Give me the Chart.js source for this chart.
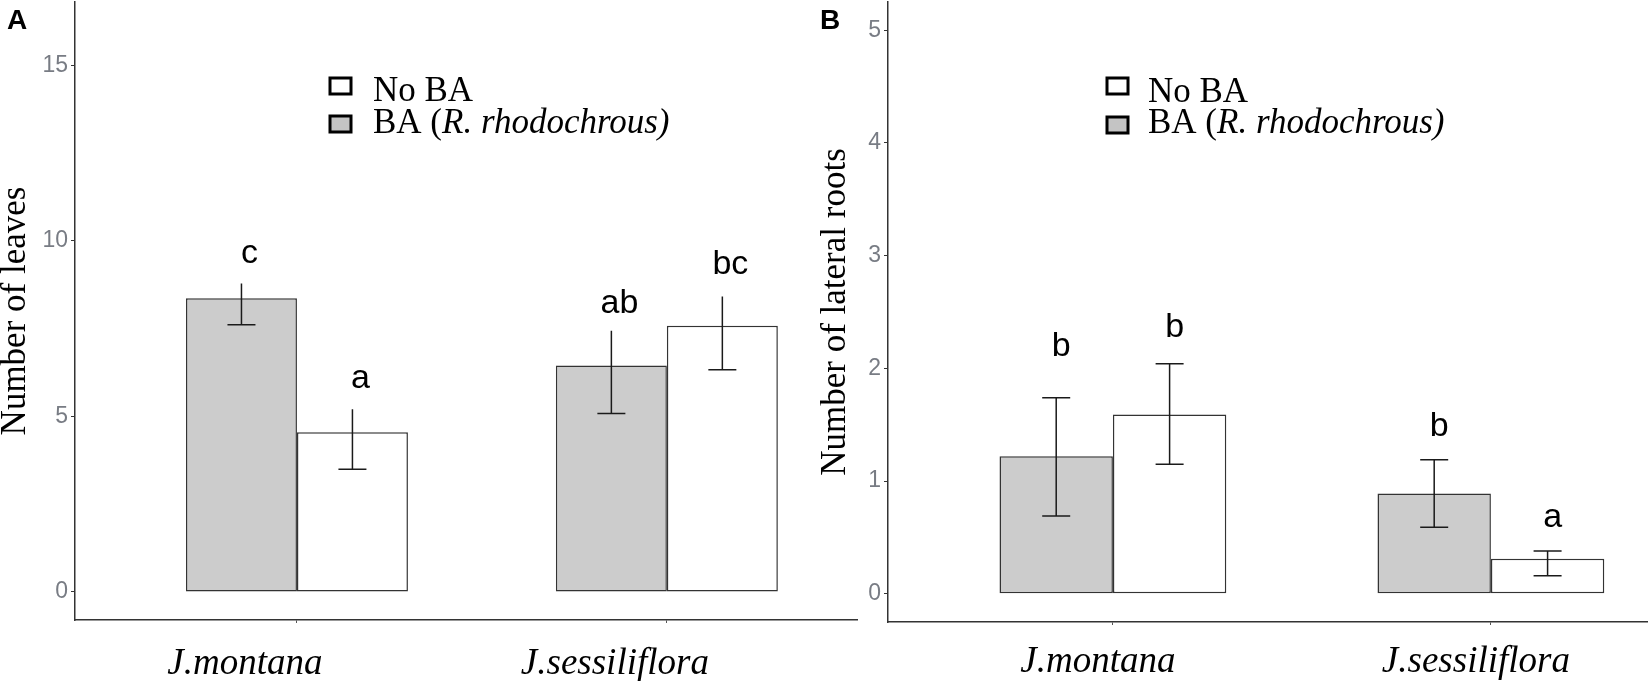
<!DOCTYPE html>
<html>
<head>
<meta charset="utf-8">
<style>
  body { margin: 0; background: #fff; width: 1650px; height: 681px; overflow: hidden; position: relative; }
  .panel { position: absolute; top: 0; }
  #wrapA { left: 0; }
  #wrapB { left: 820px; }
  .tag { position: absolute; top: 6px; font: bold 28px "Liberation Sans", Arial, sans-serif; line-height: 28px; }
</style>
<script src="https://cdn.jsdelivr.net/npm/chart.js"></script>
</head>
<body>
<div class="panel" id="wrapA"><canvas id="leavesChart" width="870" height="681"></canvas></div>
<div class="panel" id="wrapB"><canvas id="rootsChart" width="830" height="681"></canvas></div>
<div class="tag" style="left:7px">A</div>
<div class="tag" style="left:820px">B</div>
<script>
  const categories = ['J.montana', 'J.sessiliflora'];

  // A: number of leaves
  const leavesBA = [8.36, 6.45];
  const leavesBALow = [7.61, 5.08];
  const leavesBAHigh = [8.78, 7.44];
  const leavesNoBA = [4.55, 7.58];
  const leavesNoBALow = [3.49, 6.33];
  const leavesNoBAHigh = [5.2, 8.41];
  const leavesBALetters = ['c', 'ab'];
  const leavesNoBALetters = ['a', 'bc'];
  const leavesBALetterY = [9.38, 7.95];
  const leavesNoBALetterY = [5.82, 9.06];
  const leavesTicks = [0, 5, 10, 15];

  // B: number of lateral roots
  const rootsBA = [1.22, 0.89];
  const rootsBALow = [0.69, 0.59];
  const rootsBAHigh = [1.74, 1.19];
  const rootsNoBA = [1.59, 0.31];
  const rootsNoBALow = [1.15, 0.16];
  const rootsNoBAHigh = [2.04, 0.38];
  const rootsBALetters = ['b', 'b'];
  const rootsNoBALetters = ['b', 'a'];
  const rootsBALetterY = [2.11, 1.40];
  const rootsNoBALetterY = [2.28, 0.59];
  const rootsTicks = [0, 1, 2, 3, 4, 5];

  const serif = '"Liberation Serif", "Times New Roman", serif';
  const sans = '"Liberation Sans", Arial, sans-serif';

  // error bars + significance letters
  const errorBars = {
    id: 'errorBars',
    afterDatasetsDraw(chart, args, opts) {
      const ctx = chart.ctx, y = chart.scales.y;
      const h = opts.capWidth / 2;
      ctx.save();
      chart.data.datasets.forEach((ds, di) => {
        chart.getDatasetMeta(di).data.forEach((bar, i) => {
          const yl = y.getPixelForValue(ds.errLow[i]);
          const yh = y.getPixelForValue(ds.errHigh[i]);
          ctx.strokeStyle = '#1a1a1a';
          ctx.lineWidth = 1.5;
          ctx.beginPath();
          ctx.moveTo(bar.x, yl); ctx.lineTo(bar.x, yh);
          ctx.moveTo(bar.x - h, yl); ctx.lineTo(bar.x + h, yl);
          if (opts.topCaps) { ctx.moveTo(bar.x - h, yh); ctx.lineTo(bar.x + h, yh); }
          ctx.stroke();
          ctx.fillStyle = '#000';
          ctx.font = '34px ' + sans;
          ctx.textAlign = 'center';
          ctx.textBaseline = 'alphabetic';
          ctx.fillText(ds.letters[i], bar.x + opts.letterShift, y.getPixelForValue(ds.letterY[i]));
        });
      });
      ctx.restore();
    }
  };

  // legend with partly italic label
  const mixedLegend = {
    id: 'mixedLegend',
    afterDraw(chart, args, opts) {
      const ctx = chart.ctx;
      const rows = [
        { fill: '#ffffff', parts: [['No BA', 'normal']] },
        { fill: '#c4c4c4', parts: [['BA (', 'normal'], ['R. rhodochrous)', 'italic']] }
      ];
      ctx.save();
      rows.forEach((row, r) => {
        ctx.fillStyle = row.fill;
        ctx.strokeStyle = '#000';
        ctx.lineWidth = 3;
        ctx.fillRect(opts.boxX, opts.boxY[r] - 8, 21, 16);
        ctx.strokeRect(opts.boxX, opts.boxY[r] - 8, 21, 16);
        let x = opts.textX;
        ctx.fillStyle = '#000';
        ctx.textBaseline = 'alphabetic';
        ctx.textAlign = 'left';
        row.parts.forEach(([txt, style]) => {
          ctx.font = style + ' 35px ' + serif;
          ctx.fillText(txt, x, opts.textY[r]);
          x += ctx.measureText(txt).width;
        });
      });
      ctx.restore();
    }
  };

  function makePanel(id, cfg) {
    const toXY = arr => arr.map((v, i) => ({ x: i + 1, y: v }));
    return new Chart(document.getElementById(id), {
      type: 'bar',
      data: {
        datasets: [{
          label: 'BA (R. rhodochrous)',
          data: toXY(cfg.ba),
          errLow: cfg.baLow, errHigh: cfg.baHigh,
          letters: cfg.baLetters, letterY: cfg.baLetterY,
          backgroundColor: '#cccccc'
        }, {
          label: 'No BA',
          data: toXY(cfg.noBa),
          errLow: cfg.noBaLow, errHigh: cfg.noBaHigh,
          letters: cfg.noBaLetters, letterY: cfg.noBaLetterY,
          backgroundColor: '#ffffff'
        }]
      },
      options: {
        responsive: false,
        animation: false,
        layout: { padding: { top: 2, right: cfg.padRight, left: 0, bottom: 0 } },
        datasets: {
          bar: {
            borderColor: '#333333',
            borderWidth: 1.5,
            borderSkipped: false,
            categoryPercentage: 0.6,
            barPercentage: 1
          }
        },
        plugins: {
          legend: { display: false },
          tooltip: { enabled: false },
          errorBars: { capWidth: 28, topCaps: cfg.topCaps, letterShift: cfg.letterShift },
          mixedLegend: cfg.legend
        },
        scales: {
          x: {
            type: 'linear',
            min: cfg.xMin, max: cfg.xMax,
            offset: false,
            afterBuildTicks: s => { s.ticks = categories.map((c, i) => ({ value: i + 1 })); },
            ticks: {
              callback: v => categories[Math.round(v) - 1],
              font: { family: serif, size: 37, style: 'italic' },
              color: '#000',
              padding: cfg.xPad,
              labelOffset: cfg.labelShift,
              maxRotation: 0,
              autoSkip: false
            },
            grid: { offset: false, drawOnChartArea: false, drawTicks: true, tickLength: 3, tickColor: '#555', tickWidth: 1 },
            border: { color: '#333', width: 1.5 },
            afterFit: s => { s.height = cfg.xHeight; s.paddingLeft = 0; s.paddingRight = 0; }
          },
          y: {
            min: cfg.yMin, max: cfg.yMax,
            afterBuildTicks: s => { s.ticks = cfg.ticks.map(v => ({ value: v })); },
            ticks: { font: { family: sans, size: 23 }, color: '#787c84', padding: 3 },
            grid: { drawOnChartArea: false, drawTicks: true, tickLength: 4, tickColor: '#333' },
            border: { color: '#333', width: 1.5 },
            title: {
              display: true, text: cfg.title, color: '#000', padding: 0,
              font: { family: serif, size: 35, lineHeight: 0.9 }
            },
            afterFit: s => { s.width = cfg.yWidth; s.paddingTop = 0; s.paddingBottom = 0; }
          }
        }
      },
      plugins: [errorBars, mixedLegend]
    });
  }

  makePanel('leavesChart', {
    ba: leavesBA, baLow: leavesBALow, baHigh: leavesBAHigh,
    noBa: leavesNoBA, noBaLow: leavesNoBALow, noBaHigh: leavesNoBAHigh,
    baLetters: leavesBALetters, noBaLetters: leavesNoBALetters,
    baLetterY: leavesBALetterY, noBaLetterY: leavesNoBALetterY,
    ticks: leavesTicks, yMin: -0.8, yMax: 16.8, xMin: 0.4, xMax: 2.514,
    title: 'Number of leaves', yWidth: 75, xHeight: 61, xPad: 19, padRight: 13,
    labelShift: -52, topCaps: false, letterShift: 8,
    legend: { boxX: 330, textX: 373, boxY: [86, 124], textY: [101, 133] }
  });

  makePanel('rootsChart', {
    ba: rootsBA, baLow: rootsBALow, baHigh: rootsBAHigh,
    noBa: rootsNoBA, noBaLow: rootsNoBALow, noBaHigh: rootsNoBAHigh,
    baLetters: rootsBALetters, noBaLetters: rootsNoBALetters,
    baLetterY: rootsBALetterY, noBaLetterY: rootsNoBALetterY,
    ticks: rootsTicks, yMin: -0.25, yMax: 5.25, xMin: 0.405, xMax: 2.413,
    title: 'Number of lateral roots', yWidth: 68, xHeight: 59, xPad: 15, padRight: 3,
    labelShift: -15, topCaps: true, letterShift: 5,
    legend: { boxX: 287, textX: 328, boxY: [86, 125], textY: [102, 133] }
  });
</script>
</body>
</html>
